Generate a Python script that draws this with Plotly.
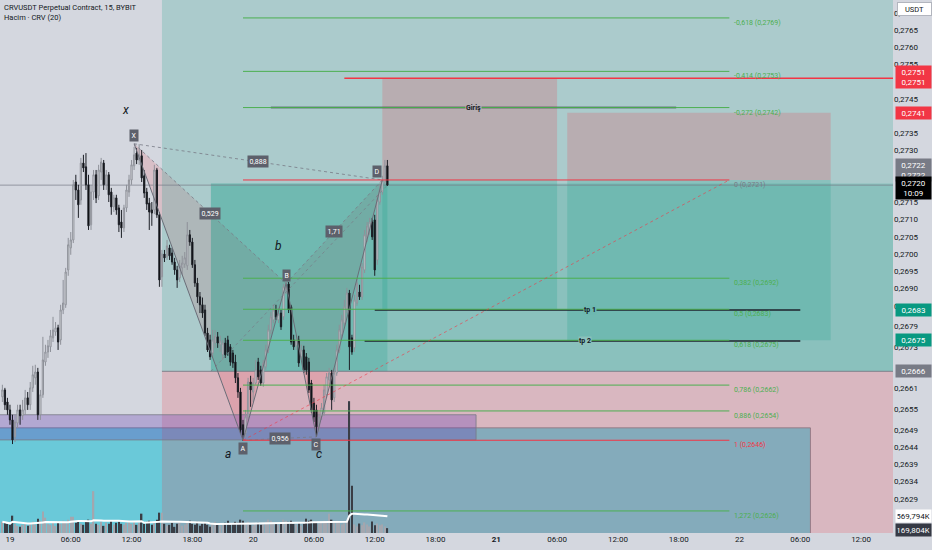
"""
CRVUSDT 15m chart with the harmonic (XABCD) drawing, fib levels,
position boxes and volume, rebuilt in plotly.
"""

import pandas as pd
import plotly.graph_objects as go

# ---- 1. Candles (15m) ----
START = "2025-06-18 23:15"

OPEN = [
    0.26586, 0.26606, 0.26571, 0.26548, 0.26519, 0.26470, 0.26510, 0.26548, 0.26531, 0.26548,
    0.26583, 0.26563, 0.26612, 0.26641, 0.26658, 0.26534, 0.26592, 0.26687, 0.26716, 0.26731,
    0.26757, 0.26774, 0.26786, 0.26751, 0.26838, 0.26853, 0.26954, 0.27018, 0.27041, 0.27209,
    0.27186, 0.27157, 0.27264, 0.27253, 0.27201, 0.27085, 0.27180, 0.27230, 0.27169, 0.27238,
    0.27264, 0.27201, 0.27230, 0.27180, 0.27137, 0.27163, 0.27134, 0.27093, 0.27076, 0.27134,
    0.27180, 0.27215, 0.27256, 0.27293, 0.27273, 0.27285, 0.27227, 0.27180, 0.27148, 0.27128,
    0.27128, 0.27244, 0.27114, 0.26934, 0.27000, 0.26992, 0.27018, 0.27003, 0.26977, 0.26954,
    0.26931, 0.26960, 0.26971, 0.26966, 0.27056, 0.27035, 0.26969, 0.26916, 0.26876, 0.26853,
    0.26838, 0.26771, 0.26751, 0.26713, 0.26742, 0.26760, 0.26737, 0.26708, 0.26742, 0.26751,
    0.26731, 0.26713, 0.26687, 0.26641, 0.26600, 0.26505, 0.26481, 0.26528, 0.26629, 0.26600,
    0.26626, 0.26687, 0.26664, 0.26626, 0.26673, 0.26722, 0.26780, 0.26809, 0.26838, 0.26809,
    0.26829, 0.26818, 0.26896, 0.26913, 0.26847, 0.26751, 0.26734, 0.26751, 0.26702, 0.26722,
    0.26702, 0.26687, 0.26626, 0.26568, 0.26548, 0.26499, 0.26528, 0.26539, 0.26592, 0.26635,
    0.26655, 0.26583, 0.26655, 0.26722, 0.26766, 0.26800, 0.26838, 0.26887, 0.26757, 0.26728,
    0.26858, 0.26890, 0.26876, 0.26954, 0.27047, 0.27070, 0.27093, 0.27099, 0.26983, 0.27151,
    0.27180, 0.27209, 0.27256,
]
HIGH = [
    0.26621, 0.26612, 0.26583, 0.26563, 0.26534, 0.26534, 0.26563, 0.26563, 0.26577, 0.26606,
    0.26600, 0.26629, 0.26676, 0.26679, 0.26670, 0.26606, 0.26760, 0.26737, 0.26751, 0.26780,
    0.26818, 0.26803, 0.26795, 0.26853, 0.26925, 0.26960, 0.27047, 0.27064, 0.27215, 0.27230,
    0.27201, 0.27279, 0.27288, 0.27293, 0.27230, 0.27201, 0.27244, 0.27244, 0.27259, 0.27279,
    0.27273, 0.27244, 0.27238, 0.27192, 0.27172, 0.27172, 0.27143, 0.27128, 0.27143, 0.27201,
    0.27230, 0.27273, 0.27311, 0.27308, 0.27319, 0.27302, 0.27244, 0.27192, 0.27163, 0.27151,
    0.27259, 0.27250, 0.27122, 0.27012, 0.27012, 0.27041, 0.27027, 0.27018, 0.26989, 0.26966,
    0.26983, 0.26995, 0.27006, 0.27093, 0.27070, 0.27047, 0.26983, 0.26931, 0.26890, 0.26874,
    0.26853, 0.26786, 0.26766, 0.26780, 0.26780, 0.26774, 0.26763, 0.26751, 0.26757, 0.26763,
    0.26739, 0.26722, 0.26708, 0.26655, 0.26612, 0.26519, 0.26548, 0.26641, 0.26647, 0.26641,
    0.26693, 0.26699, 0.26676, 0.26693, 0.26737, 0.26795, 0.26832, 0.26853, 0.26853, 0.26844,
    0.26838, 0.26913, 0.26922, 0.26919, 0.26853, 0.26766, 0.26766, 0.26763, 0.26737, 0.26734,
    0.26713, 0.26699, 0.26635, 0.26583, 0.26563, 0.26542, 0.26568, 0.26621, 0.26655, 0.26670,
    0.26664, 0.26670, 0.26737, 0.26795, 0.26824, 0.26867, 0.26902, 0.26896, 0.26766, 0.26882,
    0.26931, 0.26911, 0.26974, 0.27070, 0.27093, 0.27105, 0.27105, 0.27114, 0.27172, 0.27201,
    0.27227, 0.27273, 0.27273,
]
LOW = [
    0.26571, 0.26548, 0.26534, 0.26505, 0.26449, 0.26455, 0.26496, 0.26505, 0.26519, 0.26534,
    0.26548, 0.26548, 0.26600, 0.26621, 0.26519, 0.26519, 0.26583, 0.26676, 0.26699, 0.26716,
    0.26745, 0.26763, 0.26722, 0.26737, 0.26826, 0.26844, 0.26937, 0.26998, 0.27032, 0.27157,
    0.27105, 0.27143, 0.27238, 0.27186, 0.27070, 0.27070, 0.27157, 0.27148, 0.27157, 0.27215,
    0.27186, 0.27186, 0.27151, 0.27114, 0.27122, 0.27114, 0.27064, 0.27047, 0.27064, 0.27122,
    0.27166, 0.27201, 0.27244, 0.27261, 0.27259, 0.27209, 0.27163, 0.27128, 0.27070, 0.27082,
    0.27116, 0.27105, 0.26905, 0.26905, 0.26977, 0.26983, 0.26983, 0.26969, 0.26940, 0.26902,
    0.26919, 0.26940, 0.26960, 0.26954, 0.27024, 0.26960, 0.26905, 0.26858, 0.26829, 0.26815,
    0.26763, 0.26716, 0.26693, 0.26699, 0.26728, 0.26728, 0.26716, 0.26693, 0.26699, 0.26705,
    0.26676, 0.26670, 0.26626, 0.26583, 0.26478, 0.26458, 0.26470, 0.26519, 0.26557, 0.26571,
    0.26621, 0.26635, 0.26618, 0.26615, 0.26664, 0.26713, 0.26768, 0.26800, 0.26809, 0.26800,
    0.26780, 0.26809, 0.26884, 0.26829, 0.26737, 0.26722, 0.26722, 0.26673, 0.26693, 0.26655,
    0.26650, 0.26597, 0.26539, 0.26513, 0.26470, 0.26484, 0.26519, 0.26531, 0.26583, 0.26623,
    0.26548, 0.26571, 0.26647, 0.26713, 0.26757, 0.26792, 0.26829, 0.26664, 0.26708, 0.26716,
    0.26850, 0.26867, 0.26867, 0.26945, 0.27035, 0.27056, 0.27041, 0.26937, 0.26969, 0.27143,
    0.27172, 0.27201, 0.27198,
]
CLOSE = [
    0.26606, 0.26563, 0.26548, 0.26519, 0.26461, 0.26513, 0.26548, 0.26531, 0.26548, 0.26583,
    0.26563, 0.26612, 0.26650, 0.26658, 0.26534, 0.26592, 0.26693, 0.26716, 0.26734, 0.26763,
    0.26780, 0.26786, 0.26745, 0.26838, 0.26858, 0.26948, 0.27027, 0.27041, 0.27201, 0.27186,
    0.27143, 0.27264, 0.27250, 0.27201, 0.27082, 0.27180, 0.27230, 0.27163, 0.27244, 0.27267,
    0.27201, 0.27230, 0.27172, 0.27137, 0.27163, 0.27128, 0.27085, 0.27076, 0.27134, 0.27186,
    0.27215, 0.27259, 0.27288, 0.27273, 0.27288, 0.27221, 0.27177, 0.27145, 0.27122, 0.27119,
    0.27244, 0.27114, 0.26925, 0.27000, 0.26989, 0.27024, 0.26995, 0.26977, 0.26954, 0.26925,
    0.26966, 0.26974, 0.26989, 0.27056, 0.27035, 0.26969, 0.26916, 0.26876, 0.26853, 0.26829,
    0.26771, 0.26722, 0.26702, 0.26751, 0.26763, 0.26742, 0.26748, 0.26742, 0.26708, 0.26716,
    0.26687, 0.26684, 0.26641, 0.26600, 0.26490, 0.26476, 0.26528, 0.26629, 0.26606, 0.26626,
    0.26664, 0.26644, 0.26626, 0.26684, 0.26722, 0.26780, 0.26818, 0.26838, 0.26818, 0.26826,
    0.26789, 0.26905, 0.26911, 0.26838, 0.26745, 0.26731, 0.26751, 0.26684, 0.26722, 0.26664,
    0.26664, 0.26606, 0.26548, 0.26528, 0.26499, 0.26528, 0.26554, 0.26606, 0.26644, 0.26655,
    0.26577, 0.26655, 0.26722, 0.26780, 0.26809, 0.26847, 0.26887, 0.26731, 0.26716, 0.26867,
    0.26916, 0.26876, 0.26963, 0.27056, 0.27082, 0.27093, 0.27050, 0.26954, 0.27157, 0.27186,
    0.27215, 0.27256, 0.27200,
]
# volume in thousands of CRV
VOLUME_K = [
    390, 355, 320, 285, 605, 320, 250, 215, 285, 355,
    250, 320, 390, 285, 500, 425, 750, 535, 320, 285,
    355, 250, 390, 320, 425, 355, 465, 570, 570, 355,
    425, 320, 285, 390, 465, 320, 1460, 320, 285, 390,
    250, 355, 320, 425, 285, 355, 390, 320, 285, 355,
    425, 320, 390, 285, 355, 675, 320, 390, 425, 285,
    355, 465, 710, 710, 320, 250, 285, 355, 215, 320,
    390, 250, 285, 355, 425, 320, 285, 390, 250, 320,
    355, 285, 215, 320, 390, 285, 250, 320, 355, 425,
    285, 320, 390, 355, 465, 425, 320, 390, 285, 250,
    320, 355, 285, 320, 390, 465, 425, 355, 320, 285,
    355, 465, 425, 390, 425, 320, 285, 355, 250, 320,
    500, 425, 465, 355, 390, 320, 355, 425, 390, 675,
    465, 355, 425, 350, 300, 340, 380, 4600, 1650, 300,
    230, 330, 270, 370, 300, 230, 400, 270, 330, 270,
    300, 230, 170,
]

# ---- 2. Drawings ----
FIB_RATIOS = ["-0,618", "-0,414", "-0,272", "0", "0,382", "0,5", "0,618",
              "0,786", "0,886", "1", "1,272"]
FIB_PRICES = [0.27685, 0.27530, 0.27425, 0.27215, 0.26930, 0.26840, 0.26750,
              0.26620, 0.26545, 0.26460, 0.26255]
FIB_PRICE_TEXT = ["0,2769", "0,2753", "0,2742", "0,2721", "0,2692", "0,2683", "0,2675",
                  "0,2662", "0,2654", "0,2646", "0,2626"]
FIB_START = "2025-06-19 23:00"
FIB_END = "2025-06-21 23:00"

PATTERN_NAMES = ["X", "A", "B", "C", "D"]
PATTERN_TIMES = ["2025-06-19 12:15", "2025-06-19 23:00", "2025-06-20 03:15",
                 "2025-06-20 06:15", "2025-06-20 12:45"]
PATTERN_PRICES = [0.27320, 0.26460, 0.26915, 0.26470, 0.27215]
PATTERN_RATIOS = ["0,529", "0,888", "1,71", "0,956"]
PATTERN_PAIRS = [(0, 2), (0, 4), (2, 4), (1, 3)]   # XB, XD, BD, AC

X_TICKS = pd.date_range("2025-06-19 00:00", "2025-06-22 12:00", freq="6h")
X_TICK_TEXT = ["19", "06:00", "12:00", "18:00", "20", "06:00", "12:00", "18:00",
               "<b>21</b>", "06:00", "12:00", "18:00", "22", "06:00", "12:00"]
Y_TICKS = [0.2770, 0.2765, 0.2760, 0.2755, 0.2745, 0.2735, 0.2730, 0.2715, 0.2710,
           0.2705, 0.2700, 0.2695, 0.2690, 0.2685, 0.2679, 0.2673, 0.2661, 0.2655,
           0.2649, 0.2644, 0.2639, 0.2634, 0.2629]

BG = "#d4d7df"
TEAL = "rgba(8,153,129,0.2)"
PINK = "rgba(242,54,69,0.2)"
FONT = "Roboto"
FAR_LEFT, FAR_RIGHT = "2025-06-18 12:00", "2025-06-23 12:00"
FAR_LOW, FAR_HIGH = 0.2600, 0.2800


def rect(x0, x1, y0, y1, color, line_color=None):
    return dict(type="rect", xref="x", yref="y", x0=x0, x1=x1, y0=y0, y1=y1,
                fillcolor=color, layer="below",
                line=dict(width=1 if line_color else 0, color=line_color or color))


def hline(x0, x1, y, color, width=1, dash="solid", layer="above"):
    return dict(type="line", xref="x", yref="y", x0=x0, x1=x1, y0=y, y1=y,
                line=dict(color=color, width=width, dash=dash), layer=layer)


def axis_box(text, y, bg, fg="white", yref="y"):
    return dict(text=text, xref="paper", x=1, xanchor="left", xshift=2,
                yref=yref, y=y, yanchor="middle", showarrow=False,
                bgcolor=bg, borderpad=1.5, width=32, align="center",
                font=dict(family=FONT, size=8, color=fg))


def main():
    times = pd.date_range(START, periods=len(CLOSE), freq="15min")
    vol = pd.Series(VOLUME_K, dtype=float) * 1000
    vol_ma = vol.rolling(20, min_periods=1).mean()

    pt = [pd.Timestamp(t) for t in PATTERN_TIMES]
    path_t = [t.strftime("%Y-%m-%d_%H:%M") for t in pt]

    def tri(a, b, c):
        return "M {},{} L {},{} L {},{} Z".format(
            path_t[a], PATTERN_PRICES[a], path_t[b], PATTERN_PRICES[b],
            path_t[c], PATTERN_PRICES[c])

    shapes = [
        # zones at the bottom left
        rect(FAR_LEFT, "2025-06-22 07:00", FAR_LOW, 0.26496,
             "rgba(0,188,212,0.5)", "rgba(120,123,134,0.8)"),
        # harmonic triangles
        dict(type="path", xref="x", yref="y", path=tri(0, 1, 2),
             fillcolor="rgba(242,54,69,0.15)", line=dict(width=0), layer="below"),
        dict(type="path", xref="x", yref="y", path=tri(2, 3, 4),
             fillcolor="rgba(242,54,69,0.15)", line=dict(width=0), layer="below"),
        # long position from 19 15:00
        rect("2025-06-19 15:00", FAR_RIGHT, 0.2666, FAR_HIGH, TEAL),
        rect("2025-06-19 15:00", FAR_RIGHT, FAR_LOW, 0.2666, PINK),
        # long position from 19 19:50 (target 0.2720) + its filled part
        rect("2025-06-19 19:50", FAR_RIGHT, 0.2666, 0.27205, TEAL),
        rect("2025-06-19 19:50", "2025-06-20 13:15", 0.2666, 0.27205, TEAL),
        rect(FAR_LEFT, "2025-06-20 22:00", 0.26461, 0.26534,
             "rgba(103,58,183,0.3)", "rgba(120,123,134,0.8)"),
        # short positions
        rect("2025-06-20 12:45", "2025-06-21 06:00", 0.27215, 0.2751, PINK),
        rect("2025-06-20 12:45", "2025-06-21 06:00", 0.2684, 0.27215, TEAL),
        rect("2025-06-21 07:00", "2025-06-22 09:00", 0.27215, 0.2741, PINK),
        rect("2025-06-21 07:00", "2025-06-22 09:00", 0.2675, 0.27215, TEAL),
        # entry line of the big position, last price line
        hline("2025-06-19 15:00", FAR_RIGHT, 0.2666, "rgba(120,123,134,0.9)", 1, layer="below"),
        hline(FAR_LEFT, FAR_RIGHT, CLOSE[-1], "rgba(120,123,134,0.7)", 1, layer="below"),
        # horizontal levels
        hline("2025-06-20 09:00", FAR_RIGHT, 0.2751, "#f23645", 1.5),
        hline("2025-06-20 01:45", "2025-06-21 17:45", 0.27425, "#2a2e39", 1.5),
        hline("2025-06-20 12:00", "2025-06-22 06:00", 0.26838, "#1e222d", 1.5),
        hline("2025-06-20 11:00", "2025-06-22 06:00", 0.26748, "#1e222d", 1.5),
    ]

    for ratio, price in zip(FIB_RATIOS, FIB_PRICES):
        color = "#f23645" if ratio in ("0", "1") else "#4caf50"
        shapes.append(hline(FIB_START, FIB_END, price, color, 1))

    # fib trend line and position dashed line
    shapes.append(dict(type="line", xref="x", yref="y", x0=FIB_START, y0=FIB_PRICES[9],
                       x1=FIB_END, y1=FIB_PRICES[3], layer="above",
                       line=dict(color="rgba(242,54,69,0.6)", width=1, dash="dot")))
    shapes.append(dict(type="line", xref="x", yref="y", x0="2025-06-19 19:50", y0=0.2666,
                       x1=str(times[-1]), y1=CLOSE[-1], layer="above",
                       line=dict(color="rgba(120,123,134,0.7)", width=1, dash="dot")))

    fig = go.Figure()

    fig.add_trace(go.Bar(
        x=times, y=vol, yaxis="y2",
        marker=dict(color=["#a3a6ae" if c >= o else "#3a3d45" for o, c in zip(OPEN, CLOSE)],
                    line=dict(width=0)),
        width=15 * 60 * 1000 * 0.55,
    ))
    fig.add_trace(go.Scatter(x=times, y=vol_ma, yaxis="y2", mode="lines",
                             line=dict(color="white", width=2)))

    fig.add_trace(go.Candlestick(
        x=times, open=OPEN, high=HIGH, low=LOW, close=CLOSE,
        increasing=dict(line=dict(color="#8e9199", width=1), fillcolor="#eceef1"),
        decreasing=dict(line=dict(color="#1c1f26", width=1), fillcolor="#000000"),
        whiskerwidth=0,
    ))

    # XABCD outline
    fig.add_trace(go.Scatter(x=pt, y=PATTERN_PRICES, mode="lines",
                             line=dict(color="#6a6d78", width=1)))
    for a, b in PATTERN_PAIRS:
        fig.add_trace(go.Scatter(x=[pt[a], pt[b]], y=[PATTERN_PRICES[a], PATTERN_PRICES[b]],
                                 mode="lines",
                                 line=dict(color="rgba(120,123,134,0.8)", width=1, dash="dot")))

    ann = []
    # pattern point labels
    offsets = {"X": (0, 8), "A": (0, -8), "B": (0, 8), "C": (0, -8), "D": (-5, 8)}
    for name, t, p in zip(PATTERN_NAMES, pt, PATTERN_PRICES):
        dx, dy = offsets[name]
        ann.append(dict(x=t, y=p, text=name, showarrow=False, xshift=dx, yshift=dy,
                        bgcolor="#5d606b", borderpad=1.5,
                        font=dict(family=FONT, size=7, color="white")))
    for ratio, (a, b) in zip(PATTERN_RATIOS, PATTERN_PAIRS):
        mid_t = pt[a] + (pt[b] - pt[a]) / 2
        mid_p = (PATTERN_PRICES[a] + PATTERN_PRICES[b]) / 2
        ann.append(dict(x=mid_t, y=mid_p, text=ratio, showarrow=False,
                        bgcolor="#5d606b", borderpad=1.5,
                        font=dict(family=FONT, size=7, color="white")))

    # wave letters
    for text, t, p in [("x", "2025-06-19 11:27", 0.27418), ("a", "2025-06-19 21:31", 0.26420),
                       ("b", "2025-06-20 02:33", 0.27024), ("c", "2025-06-20 06:30", 0.26420)]:
        ann.append(dict(x=t, y=p, text="<i>" + text + "</i>", showarrow=False,
                        font=dict(family=FONT, size=12, color="#131722")))

    # fib labels
    for ratio, price, ptext in zip(FIB_RATIOS, FIB_PRICES, FIB_PRICE_TEXT):
        color = "#f23645" if ratio == "1" else ("#787b86" if ratio == "0" else "#4caf50")
        ann.append(dict(x="2025-06-21 23:15", y=price, xanchor="left", yanchor="middle",
                        yshift=-5, text="{} ({})".format(ratio, ptext),
                        showarrow=False, font=dict(family=FONT, size=7, color=color)))

    # line captions
    for text, t, p, bg in [("Giriş", "2025-06-20 21:45", 0.27425, "#b7aeb2"),
                           ("tp 1", "2025-06-21 09:15", 0.26838, "#6db8b0"),
                           ("tp 2", "2025-06-21 08:45", 0.26748, "#8bc1bb")]:
        ann.append(dict(x=t, y=p, text="<b>" + text + "</b>", showarrow=False,
                        bgcolor=bg, borderpad=0,
                        font=dict(family=FONT, size=7, color="#131722")))

    # header
    ann.append(dict(xref="paper", yref="paper", x=0, y=1, xanchor="left", yanchor="top",
                    xshift=2, yshift=-1, showarrow=False, align="left",
                    text="CRVUSDT Perpetual Contract, 15, BYBIT<br>Hacim · CRV (20)",
                    font=dict(family=FONT, size=7.5, color="#131722")))

    # right scale labels
    ann += [
        dict(xref="paper", yref="paper", x=1, y=1, xanchor="left", yanchor="top",
             xshift=4, yshift=-2, text="USDT", showarrow=False, bgcolor="white",
             bordercolor="#b2b5be", borderwidth=1, borderpad=1.5, width=30,
             font=dict(family=FONT, size=7.5, color="#131722")),
        axis_box("0,2751<br>0,2751", 0.27515, "#f23645"),
        axis_box("0,2741", 0.2741, "#f23645"),
        axis_box("0,2722<br>0,2722", 0.27243, "#787b86"),
        axis_box("0,2720<br>10:09", 0.27192, "#000000"),
        axis_box("0,2683", 0.26838, "#089981"),
        axis_box("0,2675", 0.26752, "#089981"),
        axis_box("0,2666", 0.2666, "#787b86"),
        axis_box("569,794K", vol_ma.iloc[-1], "white", "#131722", yref="y2"),
        axis_box("169,804K", 90000, "#363a45", yref="y2"),
    ]

    fig.update_layout(
        width=932, height=550,
        margin=dict(l=0, r=39, t=0, b=17),
        paper_bgcolor=BG, plot_bgcolor=BG,
        showlegend=False, hovermode=False,
        shapes=shapes, annotations=ann,
        font=dict(family=FONT, size=8, color="#131722"),
        xaxis=dict(type="date", range=["2025-06-18 23:01", "2025-06-22 15:09"],
                   showgrid=False, zeroline=False, rangeslider=dict(visible=False),
                   tickvals=X_TICKS, ticktext=X_TICK_TEXT, ticks="",
                   tickfont=dict(family=FONT, size=8, color="#131722")),
        yaxis=dict(side="right", range=[0.26191, 0.27737], showgrid=False, zeroline=False,
                   tickvals=Y_TICKS,
                   ticktext=["{:.4f}".format(v).replace(".", ",") for v in Y_TICKS],
                   ticks="", tickfont=dict(family=FONT, size=8, color="#131722")),
        yaxis2=dict(overlaying="y", range=[0, 18.6e6], visible=False),
    )

    # the page's default 8px body margin would push the chart off the window
    fig.write_html("out.html", config={"displayModeBar": False},
                   post_script="document.body.style.margin='0px';")


if __name__ == "__main__":
    main()
